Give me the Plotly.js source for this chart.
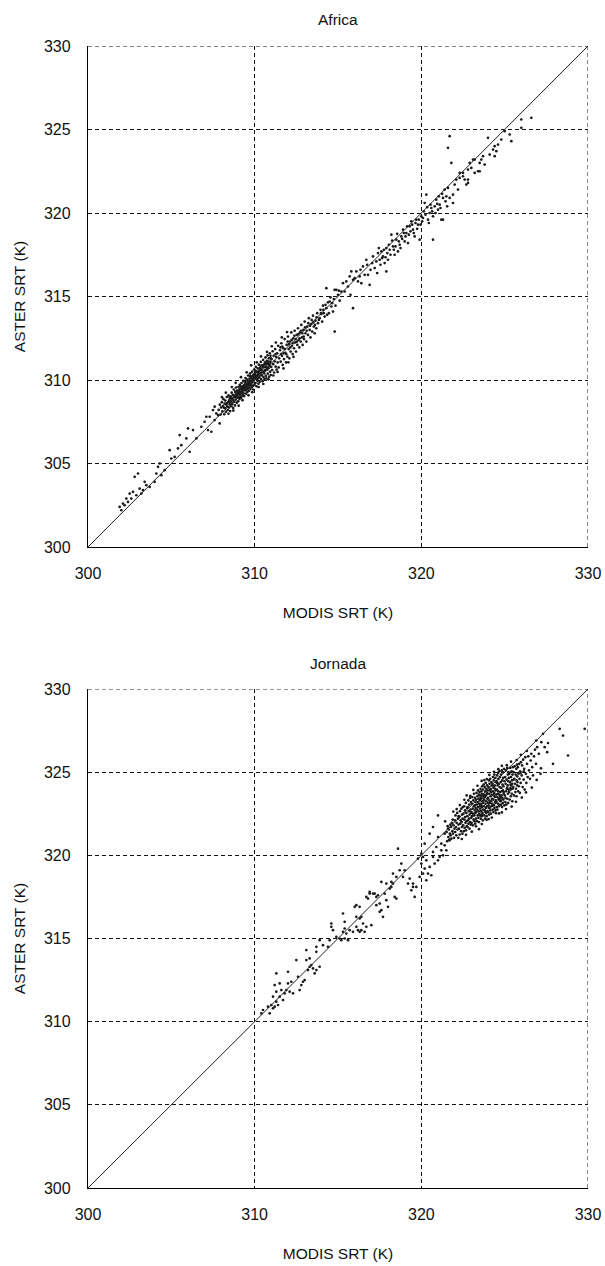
<!DOCTYPE html>
<html>
<head>
<meta charset="utf-8">
<script src="https://cdn.plot.ly/plotly-3.0.1.min.js"></script>
<style>html,body{margin:0;padding:0;background:#fff;}#chart{width:605px;height:1266px;}</style>
</head>
<body>
<div id="chart"></div>
<script>
// ---------- data (MODIS SRT, ASTER SRT) ----------
const panelTitles = ["Africa", "Jornada"];
const xTickVals = [300, 310, 320, 330];
const yTickVals = [300, 305, 310, 315, 320, 325, 330];
const oneToOne = [300, 330];

const africaLow = [[301.9,302.4],[302.1,302.6],[302.0,302.2],[302.3,302.9],[302.2,302.5],[302.5,303.2],[302.4,302.7],[302.7,303.3],[302.6,302.9],[302.8,304.2],[303.0,304.4],[303.1,303.5],[302.9,303.1],[303.3,303.4],[303.2,303.2],[303.5,303.7],[303.7,303.6],[303.4,303.9],[304.0,303.9],[304.1,304.4],[304.2,304.8],[304.3,305.0],[304.4,304.3],[304.6,304.6],[304.9,305.8],[305.0,305.3],[305.2,305.4],[305.4,305.9],[305.5,306.7],[305.6,306.1],[305.9,306.5],[306.1,305.7],[306.0,307.1],[306.3,307.0],[306.5,306.5],[306.8,307.2],[307.0,307.5],[307.1,307.8],[307.2,307.0],[307.4,306.9],[307.3,307.8],[307.5,308.2],[307.6,308.4],[307.7,308.0],[307.9,307.4],[307.6,307.6],[307.8,307.9]];

const africaCore = [[307.84,308.21],[307.91,308.52],[307.95,307.93],[307.99,308.36],[308.03,308.67],[308.06,308.12],[308.1,308.44],[308.13,308.85],[308.17,307.95],[308.19,308.58],
[308.22,308.31],[308.24,308.77],[308.27,308.09],[308.3,308.52],[308.33,308.98],[308.35,308.41],[308.38,308.2],[308.41,308.66],[308.43,309.08],[308.46,308.35],[308.48,308.79],[308.51,308.55],[308.53,308.14],[308.56,309.02],[308.58,308.7],[308.6,308.43],
[308.62,309.24],[308.64,308.88],[308.66,308.57],[308.69,309.11],[308.71,308.32],[308.73,308.95],[308.75,309.43],[308.77,308.69],[308.8,309.06],[308.82,308.48],[308.84,309.3],[308.86,308.83],[308.88,309.55],[308.9,309.12],[308.92,308.64],[308.94,309.37],[308.96,308.95],[308.98,309.21],
[309.01,308.72],[309.03,309.58],[309.05,309.14],[309.07,309.36],[309.09,308.86],[309.11,309.71],[309.13,309.26],[309.15,309.02],[309.17,309.49],[309.19,308.93],[309.21,309.82],[309.23,309.33],[309.25,309.6],[309.27,309.1],[309.29,309.45],[309.31,309.95],[309.33,309.21],[309.35,309.68],[309.37,309.04],[309.39,309.52],
[309.41,309.85],[309.43,309.37],[309.45,310.12],[309.47,309.6],[309.49,309.18],[309.51,309.78],[309.53,309.44],[309.55,310.03],[309.57,309.29],[309.59,309.7],[309.61,310.27],[309.63,309.55],[309.65,309.9],[309.67,309.36],[309.69,310.08],[309.71,309.66],[309.73,310.4],[309.75,309.48],[309.77,309.92],[309.79,309.72],
[309.81,310.2],[309.83,309.58],[309.85,310.5],[309.87,309.85],[309.89,310.05],[309.91,309.43],[309.93,310.33],[309.95,309.97],[309.97,310.63],[309.99,309.7],[310.01,310.18],[310.03,310.42],[310.05,309.82],[310.07,310.78],[310.09,310.1],[310.11,309.62],[310.13,310.5],[310.15,310.26],[310.17,309.95],[310.19,310.69],
[310.21,310.35],[310.23,309.78],[310.25,310.92],[310.27,310.15],[310.29,310.56],[310.31,309.9],[310.33,310.72],[310.35,310.4],[310.37,311.08],[310.39,310.05],[310.41,310.62],[310.43,310.28],[310.45,310.88],[310.47,309.92],[310.49,310.5],[310.51,311.2],[310.53,310.18],[310.55,310.77],[310.57,310.4],[310.59,310.06],
[310.61,311.02],[310.63,310.55],[310.65,311.35],[310.67,310.25],[310.69,310.8],[310.71,310.1],[310.73,311.15],[310.75,310.62],[310.77,311.48],[310.79,310.38],[310.81,310.95],[310.83,310.71],[310.85,311.3],[310.87,310.2],[310.89,310.85],[310.91,311.6],[310.93,310.5],[310.95,311.1],[310.97,310.3],[310.99,310.78],
[311.02,311.25],[311.05,310.6],[311.08,311.72],[311.11,310.95],[311.14,311.45],[311.17,310.45],[311.2,311.12],[311.23,311.85],[311.26,310.8],[311.29,311.38],[311.32,310.62],[311.35,311.6],[311.38,311.05],[311.41,312.05],[311.44,310.75],[311.47,311.3],
[308.32,308.6],[308.45,308.7],[308.57,308.9],[308.68,308.8],[308.78,309.0],[308.87,309.0],[308.95,309.1],[309.02,309.3],[309.1,309.45],[309.16,309.2],[309.22,309.55],[309.28,309.4],[309.34,309.6],[309.4,309.45],[309.46,309.75],[309.52,309.6],[309.58,309.9],[309.64,309.75],[309.7,309.8],[309.76,310.1],[309.82,309.95],[309.88,310.25],[309.94,310.15],[310.0,310.35],[310.06,310.25],[310.12,310.05],[310.18,310.45],[310.24,310.5],[310.3,310.25],[310.36,310.6],[310.42,310.45],[310.48,310.75],[310.54,310.9],[310.6,310.6],[310.66,310.95],[310.72,310.75],[310.78,311.0],[310.84,311.1],[310.9,310.95],[310.96,311.3],[309.05,308.95],[309.32,309.05],[309.6,309.5],[309.9,309.65],[310.2,310.1]];

const africaCoreEdge = [[308.04,308.97],[308.27,309.24],[308.63,309.58],[308.86,309.83],[309.18,310.17],[309.52,310.46],[309.79,310.88],[310.12,311.06],[310.38,311.41],[310.74,311.68],[311.03,312.02],[311.27,312.24],[311.63,312.55],[311.94,312.87],
[308.43,307.98],[308.72,308.17],[309.04,308.46],[309.27,308.79],[309.63,309.08],[309.86,309.27],[310.24,309.58],[310.52,309.76],[310.83,310.04],[311.12,310.27],[311.38,310.48],[311.73,310.69],[312.02,311.06],[312.33,311.38],
[308.15,308.35],[308.5,308.95],[308.85,309.25],[309.12,309.65],[309.45,309.95],[309.72,310.25],[310.05,310.55],[310.35,310.85],[310.65,311.05],[310.95,311.45],[311.25,311.55],[311.55,311.95]];

const africaMid = [[311.52,311.78],[311.56,311.1],[311.6,312.2],[311.64,311.45],[311.68,310.9],[311.72,311.9],[311.76,311.25],[311.8,312.45],[311.84,311.62],[311.88,311.05],[311.92,312.1],[311.96,311.4],[312.0,312.6],[312.04,311.85],[312.08,311.3],[312.12,312.3],[312.16,311.7],[312.2,312.85],[312.24,312.05],[312.28,311.55],[312.32,312.5],[312.36,311.9],[312.4,312.95],[312.44,312.25],[312.48,311.7],[312.52,312.7],[312.56,312.1],[312.6,313.1],[312.64,312.4],[312.68,311.95],[312.72,312.85],[312.76,312.3],[312.8,313.3],[312.84,312.55],[312.88,312.1],[312.92,313.0],[312.96,312.45],[313.0,313.5],[313.05,312.8],[313.1,312.3],[313.15,313.2],[313.2,312.7],[313.25,313.7],[313.3,313.0],[313.35,312.55],[313.4,313.35],[313.45,312.9],[313.5,313.85],[313.55,313.2],[313.6,312.8],[313.65,313.55],[313.7,313.1],[313.75,314.0],[313.8,313.4],[313.9,313.7],[313.95,314.2],[314.0,313.95],[314.05,313.5],[314.1,314.45],[314.15,314.0],[314.2,313.8],[314.3,314.3],[314.4,314.65],[314.45,314.0],[314.5,314.7],[314.6,314.4],[314.7,314.1],[314.75,314.85],[314.8,315.4],[314.9,315.4],[315.0,315.1],[314.8,312.9],[315.1,314.75],[315.2,315.3],[314.3,315.5],[315.9,314.3],
[311.58,311.55],[311.66,312.0],[311.74,311.6],[311.82,311.85],[311.9,311.55],[311.98,312.3],[312.06,312.15],[312.14,311.95],[312.22,312.4],[312.3,312.2],[312.38,312.65],[312.46,312.45],[312.54,312.3],[312.62,312.75],[312.7,312.5],[312.78,312.95],[312.86,312.8],[312.94,312.6],[313.02,313.15],[313.12,312.95],[313.22,313.4],[313.32,313.25],[313.42,313.6],[313.52,313.45],[313.62,313.3],[313.72,313.75],[313.85,313.6],[313.98,314.0],[314.12,314.2],[314.25,314.5],[314.35,313.9],[314.55,314.95],[314.65,314.6],[314.85,314.45],[315.05,315.35]];

const africaHigh = [[315.3,315.8],[315.5,315.9],[315.7,316.2],[315.9,316.0],[316.1,316.5],[315.8,316.5],[316.3,316.2],[316.5,316.8],[316.4,315.8],[316.7,317.2],[316.8,316.3],[316.9,315.7],[317.1,317.4],[317.2,316.7],[317.4,317.6],[317.5,317.2],[317.6,317.7],[317.7,317.4],[317.8,317.0],[317.9,317.9],[317.96,317.6],[318.0,317.2],[317.9,316.5],[318.1,317.8],[318.2,318.7],[318.3,318.0],[318.4,317.5],[318.5,318.4],[318.6,317.7],[318.7,318.1],[318.8,318.6],[318.9,319.0],[319.0,318.3],[319.1,318.8],[319.2,318.2],[319.3,319.2],[319.4,319.5],[319.5,319.0],[319.6,318.6],[319.7,319.6],[319.8,319.3],[319.9,318.4],[320.0,319.8],[320.1,319.7],[320.15,320.1],[320.2,320.6],[320.3,321.1],[320.4,319.6],[320.5,320.0],[320.6,320.3],[320.7,319.8],[320.7,318.4],[320.8,320.4],[320.9,320.8],[321.0,320.2],[321.1,320.5],[321.2,319.6],[321.3,320.9],[321.4,321.4],[321.5,321.0],[321.6,321.5],[321.7,320.9],[321.9,321.1],[322.0,321.7],[322.1,322.0],[322.2,321.4],[322.3,322.1],[322.5,322.4],[322.6,322.0],[322.7,321.7],[322.8,322.6],[322.9,323.0],[323.0,322.7],[323.1,323.2],[323.2,322.4],[323.4,322.5],[323.5,323.0],[321.7,324.6],[321.6,323.9],[321.8,323.0],[321.9,320.6],[321.3,319.6],
[326.6,325.7],[326.0,325.6],[326.0,325.1],[325.3,324.7],[325.4,324.3],[325.0,324.9],[324.8,324.4],[324.6,324.1],[324.4,324.0],[324.5,323.7],[324.3,323.8],[324.0,324.5],[324.1,323.5],[324.4,323.4],[323.7,323.4],[323.6,323.2],[323.8,322.9],[323.5,322.5],[322.8,321.8],[322.8,322.0],[322.5,322.2],[322.3,322.4],[323.2,323.2],
[315.4,315.3],[315.6,315.6],[315.75,315.1],[316.0,316.1],[316.2,315.9],[316.35,316.6],[316.6,316.3],[316.75,316.9],[316.95,316.6],[317.05,317.0],[317.3,317.1],[317.35,316.4],[317.45,317.9],[317.55,316.9],[317.65,317.3],[317.75,317.8],[317.85,317.35],[318.05,318.1],[318.15,317.5],[318.25,318.35],[318.35,317.8],[318.45,318.0],[318.55,318.75],[318.65,318.3],[318.75,317.9],[318.85,318.45],[318.95,318.8],[319.05,318.6],[319.15,319.2],[319.25,318.7],[319.35,318.9],[319.45,319.3],[319.55,318.8],[319.65,319.4],[319.75,319.05],[319.85,319.6],[319.95,319.3],[320.05,319.5],[320.25,319.9],[320.35,320.35],[320.45,319.4],[320.55,320.5],[320.65,320.1],[320.85,320.0],[320.95,320.55],[321.05,321.0],[321.15,320.3],[321.25,321.15],[321.45,320.7],[321.55,320.4]];

const jornadaLow = [[310.4,310.5],[310.5,310.7],[310.9,310.5],[310.8,310.9],[311.0,311.0],[311.1,310.8],[311.2,310.9],[311.4,311.0],[311.3,311.2],[311.1,311.5],[311.5,311.5],[311.3,311.8],[311.7,311.3],[311.8,311.7],[311.2,312.2],[311.5,312.3],[311.6,311.9],[311.3,312.9],[312.0,313.0],[311.9,311.9],[312.1,311.8],[312.3,311.7],[312.0,312.3],[312.2,312.4],[312.7,311.9],[312.8,312.2],[312.9,312.4],[312.6,312.7],[313.0,312.5],[312.5,313.7],[313.1,313.7],[313.3,313.8],[313.4,313.4],[313.5,313.2],[313.7,313.1],[313.6,312.9],[313.2,313.1],[313.1,314.3],[313.3,313.3],[313.9,313.3],[313.7,314.2],[313.7,314.5],[313.9,314.9],[314.1,314.6],[314.4,314.5],[314.5,314.9],[314.6,315.7],[314.7,315.5],[314.6,315.9],[314.9,315.1],[315.1,315.0],[315.2,314.9],[315.4,315.0],[315.6,314.9],[315.5,315.3],[315.3,315.4],[315.4,315.6],[315.7,315.5],[315.9,315.4],[316.1,315.7],[316.2,315.5],[316.3,315.4],[316.1,316.3],[316.3,316.2],[316.4,315.5],[316.5,315.9],[316.7,315.7],[317.0,315.8],[316.3,316.9],[315.3,316.5],[315.4,316.0],[316.1,317.0],[316.7,317.5],[316.8,317.4],[316.9,317.8],[317.1,317.7],[317.3,317.5],[317.4,317.6],[317.6,318.4],[317.8,317.7],[317.9,317.3],[318.0,316.9],[317.6,316.7],[317.7,316.3],[317.5,317.1],[318.2,318.4],[318.3,318.3],[318.4,317.5],[318.5,318.7],[318.2,318.1],
[316.0,316.9],[316.4,316.3],[316.6,315.4],[316.9,317.7],[317.2,317.7],[317.3,317.0],[317.5,316.6],[317.9,318.3],[318.1,318.0],[318.3,318.9],[318.5,317.4]];

const jornadaMid = [[318.6,320.4],[318.8,319.5],[319.0,319.1],[319.3,318.6],[319.5,318.3],[319.6,317.5],[319.7,318.1],[319.4,317.9],[319.2,318.3],[318.7,319.1],[318.9,318.7],[320.0,319.5],[320.1,319.9],[320.2,319.2],[320.3,319.7],[320.4,318.9],[320.5,319.3],[320.7,320.2],[320.8,319.5],[320.9,320.5],[321.0,321.1],[321.1,319.9],[321.2,320.7],[321.4,321.3],[321.5,320.3],[321.6,321.6],[321.7,320.9],[321.0,322.4],[320.7,321.7],[320.5,321.3],[320.2,320.7],[320.1,318.9],[320.3,318.5],[320.7,319.9],[321.0,319.7],[321.2,320.3],[319.5,318.1],[319.8,319.8],[320.0,320.1],[319.9,318.7],[320.6,318.8],[321.3,320.0],[321.4,320.6]];

const jornadaCore = [[321.52,321.4],[321.55,320.85],[321.58,321.75],[321.62,321.1],[321.65,321.55],[321.68,320.95],[321.71,321.3],[321.74,321.85],
[321.76,321.2],[321.78,321.7],[321.8,321.0],[321.83,321.95],[321.86,321.45],[321.88,322.15],[321.9,321.3],[321.93,321.8],[321.96,321.05],[321.99,321.6],
[322.01,322.1],[322.03,321.4],[322.05,322.4],[322.08,321.7],[322.1,321.2],[322.12,321.95],[322.15,322.55],[322.17,321.55],[322.2,322.2],[322.22,321.05],[322.23,321.85],[322.24,322.35],
[322.26,321.6],[322.28,322.3],[322.3,321.25],[322.32,322.65],[322.34,321.9],[322.36,322.1],[322.38,321.45],[322.4,322.8],[322.42,322.0],[322.44,321.7],[322.45,322.45],[322.47,321.3],[322.48,322.2],[322.49,322.9],
[322.51,321.8],[322.53,322.5],[322.55,321.45],[322.57,322.95],[322.58,322.15],[322.6,321.65],[322.62,322.7],[322.63,322.3],[322.65,321.95],[322.67,323.15],[322.68,321.5],[322.7,322.55],[322.71,322.05],[322.72,323.6],[322.73,321.75],[322.74,322.85],
[322.76,322.35],[322.77,321.7],[322.79,322.9],[322.8,322.1],[322.82,323.3],[322.83,321.9],[322.85,322.65],[322.86,322.2],[322.88,323.05],[322.89,321.6],[322.9,322.45],[322.92,323.45],[322.93,322.0],[322.95,322.75],[322.96,321.85],[322.97,322.55],[322.98,323.2],[322.99,322.25],
[323.01,322.6],[323.02,321.95],[323.04,323.1],[323.05,322.35],[323.06,323.5],[323.08,322.8],[323.09,321.8],[323.1,322.5],[323.12,323.3],[323.13,322.15],[323.15,322.95],[323.16,323.7],[323.18,322.4],[323.19,322.05],[323.2,323.0],[323.21,322.7],[323.22,323.45],[323.23,321.9],[323.24,322.55],[323.25,323.2],
[323.26,322.85],[323.27,322.2],[323.28,323.35],[323.3,322.6],[323.31,323.75],[323.32,323.05],[323.34,322.05],[323.35,322.75],[323.36,323.55],[323.38,322.4],[323.39,323.2],[323.4,323.9],[323.41,322.9],[323.42,322.25],[323.43,323.4],[323.44,322.65],[323.45,323.65],[323.46,322.0],[323.47,323.1],[323.48,322.5],[323.49,323.8],[323.5,322.95],
[323.51,323.3],[323.52,322.4],[323.53,323.6],[323.54,322.8],[323.55,324.0],[323.56,323.1],[323.57,322.2],[323.58,323.45],[323.59,322.65],[323.6,323.85],[323.61,323.0],[323.62,322.35],[323.63,323.7],[323.64,322.9],[323.65,324.15],[323.66,323.25],[323.67,322.55],[323.68,323.55],[323.69,322.1],[323.7,323.95],[323.71,323.15],[323.72,322.75],[323.73,323.4],[323.74,324.25],
[323.76,322.95],[323.77,323.65],[323.78,322.4],[323.79,323.3],[323.8,324.1],[323.81,322.7],[323.82,323.5],[323.83,322.2],[323.84,323.85],[323.85,323.1],[323.86,324.35],[323.87,322.85],[323.88,323.6],[323.89,322.55],[323.9,324.0],[323.91,323.25],[323.92,322.35],[323.93,323.75],[323.94,322.95],[323.95,324.2],[323.96,323.4],[323.97,322.65],[323.98,323.9],[323.99,323.15],
[324.01,323.45],[324.02,322.6],[324.03,324.1],[324.04,323.0],[324.05,324.5],[324.06,323.7],[324.07,322.45],[324.08,323.3],[324.09,324.3],[324.1,322.85],[324.11,323.9],[324.12,323.15],[324.13,324.6],[324.14,322.7],[324.15,323.55],[324.16,324.0],[324.17,322.5],[324.18,323.8],[324.19,323.25],[324.2,324.4],[324.21,322.95],[324.22,323.65],[324.23,324.2],[324.24,323.4],
[324.26,323.1],[324.27,324.3],[324.28,322.75],[324.29,323.85],[324.3,324.7],[324.31,323.35],[324.32,322.6],[324.33,324.05],[324.34,323.6],[324.35,324.5],[324.36,323.0],[324.37,323.75],[324.38,324.85],[324.39,322.85],[324.4,324.2],[324.41,323.5],[324.42,323.2],[324.43,324.0],[324.44,324.65],[324.45,322.7],[324.46,323.9],[324.47,323.3],[324.48,324.4],[324.49,323.65],
[324.51,323.2],[324.52,324.45],[324.53,322.9],[324.54,323.95],[324.55,324.8],[324.56,323.5],[324.57,322.75],[324.58,324.2],[324.59,323.7],[324.6,324.95],[324.61,323.1],[324.62,323.85],[324.63,324.6],[324.64,323.35],[324.65,322.95],[324.66,324.3],[324.67,323.65],[324.68,325.05],[324.69,323.0],[324.7,324.1],[324.71,323.45],[324.72,324.7],[324.73,323.8],[324.74,323.25],
[324.76,324.4],[324.77,323.3],[324.78,324.85],[324.79,323.05],[324.8,324.05],[324.81,323.6],[324.82,325.1],[324.83,323.85],[324.84,322.9],[324.85,324.5],[324.86,323.45],[324.87,324.25],[324.88,325.0],[324.89,323.15],[324.9,323.9],[324.91,324.65],[324.92,323.35],[324.93,324.15],[324.94,323.7],[324.96,325.2],[324.98,323.0],[324.99,324.45],
[325.01,323.6],[325.03,324.7],[325.04,323.2],[325.06,324.3],[325.07,325.1],[325.09,323.85],[325.1,323.05],[325.12,324.55],[325.13,324.0],[325.15,325.25],[325.16,323.4],[325.18,324.2],[325.19,324.85],[325.2,323.7],[325.21,323.15],[325.22,324.45],[325.23,325.0],[325.24,323.95],[325.25,324.65],[325.05,323.45],
[325.27,323.8],[325.28,324.9],[325.3,323.35],[325.32,324.4],[325.33,325.25],[325.35,324.05],[325.37,323.55],[325.38,324.7],[325.4,324.2],[325.42,325.05],[325.43,323.7],[325.44,324.5],[325.46,323.25],[325.47,324.85],[325.48,324.0],[325.49,325.3],[325.36,323.95],[325.45,324.3],
[325.52,324.1],[325.54,325.0],[325.56,323.6],[325.58,324.6],[325.6,325.35],[325.62,324.3],[325.64,323.8],[325.66,324.85],[325.68,324.0],[325.7,325.2],[325.71,323.55],[325.72,324.5],[325.74,325.45],[325.75,324.2],
[325.77,324.4],[325.79,325.3],[325.81,323.85],[325.83,324.9],[325.85,324.15],[325.87,325.5],[325.89,324.6],[325.91,323.75],[325.93,325.05],[325.96,324.35],[325.98,325.6],
[326.02,324.8],[326.05,325.4],[326.08,324.1],[326.11,325.75],[326.14,324.55],[326.17,325.2],[326.2,323.95],[326.24,325.9],[326.27,324.9],[326.3,324.35],[326.34,325.5],[326.38,324.7],[326.42,325.95],[326.46,325.1],
[326.52,324.6],[326.56,325.7],[326.6,326.1],[326.65,325.3],[326.7,324.8],[326.76,325.95],[326.82,326.35],[326.88,325.5],[326.95,326.5],[327.05,326.1]];

const jornadaCoreEdge = [[322.31,323.02],[322.58,323.34],[322.94,323.57],[323.12,323.93],[323.37,324.18],[323.62,324.47],[323.93,324.58],[324.08,324.83],[324.36,325.02],[324.62,325.18],[324.83,325.38],[325.13,325.42],[325.38,325.63],[325.72,325.73],[325.97,326.04],[326.33,326.27],[321.92,322.63],[321.43,322.04],[322.12,322.78],[323.78,324.52],
[322.43,320.98],[322.68,321.23],[323.03,321.42],[323.28,321.74],[323.63,321.88],[323.92,322.13],[324.23,322.27],[324.48,322.53],[324.83,322.58],[325.08,322.78],[325.42,322.93],[325.68,323.22],[326.03,323.47],[326.28,323.78],[326.63,324.07],[326.92,324.53],[327.18,325.23],[323.46,321.57],[324.04,322.18],[324.66,322.52],
[323.55,323.35],[323.75,323.55],[323.95,323.7],[324.15,323.95],[324.35,324.15],[324.55,324.35],[324.75,323.55],[324.95,323.8],[325.15,324.05],[325.35,324.25],[324.25,323.0],[324.45,323.15],[324.65,323.4],[323.85,322.6],[323.65,322.45],[324.05,322.85],[325.55,324.55],[325.75,324.75],[325.95,324.95],[326.15,325.05]];

const jornadaHigh = [[327.3,327.3],[327.4,326.5],[327.55,326.2],[327.9,325.5],[328.3,327.6],[328.5,327.2],[328.8,326.0],[329.8,327.6],[327.2,326.8],[327.6,326.75],[327.15,324.9],[326.9,326.9]];

// ---------- build ----------
const africaPts = africaLow.concat(africaCore, africaCoreEdge, africaMid, africaHigh);
const jornadaPts = jornadaLow.concat(jornadaMid, jornadaCore, jornadaCoreEdge, jornadaHigh);

const FONT = "Liberation Sans, Arial, Helvetica, sans-serif";
const markerStyle = {size: 2.7, color: "#1a1a1a", line: {width: 0}};
const DASH = "4px,3px";

function scatter(pts, xa, ya) {
  return {type: "scatter", mode: "markers", x: pts.map(p => p[0]), y: pts.map(p => p[1]),
          xaxis: xa, yaxis: ya, marker: markerStyle, hoverinfo: "x+y", showlegend: false};
}
function diag(xa, ya) {
  return {type: "scatter", mode: "lines", x: oneToOne, y: oneToOne, xaxis: xa, yaxis: ya,
          line: {color: "#222", width: 1}, hoverinfo: "skip", showlegend: false};
}

const data = [
  scatter(africaPts, "x", "y"), diag("x", "y"),
  scatter(jornadaPts, "x2", "y2"), diag("x2", "y2")
];

function xAxis(anchor) {
  return {anchor: anchor, domain: [0, 1], range: oneToOne, tickvals: xTickVals,
          showgrid: true, gridcolor: "#111", gridwidth: 1, griddash: DASH,
          showline: true, linecolor: "#000", linewidth: 1.2, zeroline: false, ticks: "",
          ticklabelstandoff: 12, tickfont: {family: FONT, size: 16, color: "#111"},
          title: {text: "MODIS SRT (K)", font: {family: FONT, size: 15.5, color: "#111"}, standoff: 25}};
}
function yAxis(anchor, domain) {
  return {anchor: anchor, domain: domain, range: oneToOne, tickvals: yTickVals,
          showgrid: true, gridcolor: "#111", gridwidth: 1, griddash: DASH,
          showline: true, linecolor: "#000", linewidth: 1.2, zeroline: false, ticks: "",
          ticklabelstandoff: 13, tickfont: {family: FONT, size: 16, color: "#111"},
          title: {text: "ASTER SRT (K)", font: {family: FONT, size: 15.5, color: "#111"}, standoff: 14}};
}

// dashed top and right frame edges (grid lines at the 330 range edge)
function frame(xr, yr) {
  const lo = oneToOne[0], hi = oneToOne[1];
  const st = {color: "#111", width: 1, dash: DASH};
  return [
    {type: "line", xref: xr, yref: yr, x0: lo, x1: hi, y0: hi, y1: hi, line: st},
    {type: "line", xref: xr, yref: yr, x0: hi, x1: hi, y0: lo, y1: hi, line: st}
  ];
}

const layout = {
  width: 605, height: 1266,
  margin: {l: 88, r: 17, t: 46, b: 78},
  paper_bgcolor: "#fff", plot_bgcolor: "#fff",
  font: {family: FONT, color: "#111"},
  showlegend: false,
  xaxis: xAxis("y"), yaxis: yAxis("x", [0.5613, 1]),
  xaxis2: xAxis("y2"), yaxis2: yAxis("x2", [0, 0.437]),
  shapes: frame("x", "y").concat(frame("x2", "y2")),
  annotations: [
    {text: panelTitles[0], xref: "paper", yref: "paper", x: 0.5, y: 1.0236, xanchor: "center", yanchor: "middle",
     showarrow: false, font: {family: FONT, size: 15.5, color: "#111"}},
    {text: panelTitles[1], xref: "paper", yref: "paper", x: 0.5, y: 0.4597, xanchor: "center", yanchor: "middle",
     showarrow: false, font: {family: FONT, size: 15.5, color: "#111"}}
  ]
};

Plotly.newPlot("chart", data, layout, {displayModeBar: false, staticPlot: true});
</script>
</body>
</html>
